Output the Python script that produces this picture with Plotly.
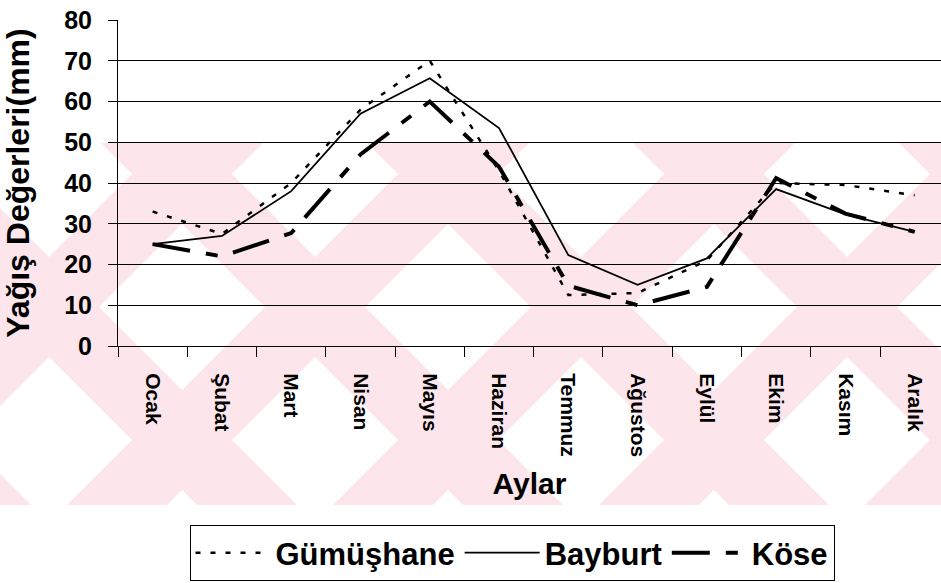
import plotly.graph_objects as go

# ---- data ----
months = ["Ocak", "Şubat", "Mart", "Nisan", "Mayıs", "Haziran",
          "Temmuz", "Ağustos", "Eylül", "Ekim", "Kasım", "Aralık"]
gumushane = [33, 27.5, 40, 58, 70, 43, 12.5, 13, 21, 40, 39.5, 37]
bayburt = [25, 27, 38, 57, 65.7, 53.5, 22.3, 15, 21.5, 38.5, 32.3, 28]
kose = [25, 22, 27.7, 47, 60, 44, 14.8, 10, 14.5, 41.2, 32.5, 28]
y_ticks = [0, 10, 20, 30, 40, 50, 60, 70, 80]

# page body margin is removed (post_script), so figure pixels == screen pixels
W, H = 941, 583
ML, MT, PH = 118, 20, 326
MR = 0
MB = H - MT - PH
PW = W - ML - MR

def px2paper(X, Y):
    return (X - ML) / PW, (MT + PH - Y) / PH

FONT = "Liberation Sans, Arial, Helvetica, sans-serif"

fig = go.Figure()

fig.add_trace(go.Scatter(
    x=months, y=gumushane, name="Gümüşhane", mode="lines",
    line=dict(color="black", width=2.5, dash="5px,10px")))
fig.add_trace(go.Scatter(
    x=months, y=bayburt, name="Bayburt", mode="lines",
    line=dict(color="black", width=1.8)))
fig.add_trace(go.Scatter(
    x=months, y=kose, name="Köse", mode="lines",
    line=dict(color="black", width=4, dash="38px,16px,12px,16px")))

# ---- decorative background watermark (pink diagonal bands) ----
y_top, y_bot, band, period = 143, 505, 100, 266
span = y_bot - y_top
shapes = []
for k in range(-3, 6):
    a = 67 + period * k       # "/" bands
    pts = [(a, y_bot), (a + band, y_bot), (a + band + span, y_top), (a + span, y_top)]
    b = 197 + period * k      # "\" bands
    pts2 = [(b, y_bot), (b + band, y_bot), (b + band - span, y_top), (b - span, y_top)]
    for p in (pts, pts2):
        pp = [px2paper(X, Y) for X, Y in p]
        path = "M " + " L ".join(f"{u:.4f},{v:.4f}" for u, v in pp) + " Z"
        shapes.append(dict(type="path", xref="paper", yref="paper", path=path,
                           fillcolor="#fde6eb", line=dict(width=0), layer="below"))

lx, _ = px2paper(512, 0)
_, ly = px2paper(0, 581)

fig.update_layout(
    width=W, height=H,
    margin=dict(l=ML, r=MR, t=MT, b=MB, pad=0, autoexpand=False),
    paper_bgcolor="white",
    plot_bgcolor="rgba(0,0,0,0)",
    shapes=shapes,
    font=dict(family=FONT, color="black"),
    showlegend=True,
    hovermode=False,
    legend=dict(
        orientation="h", x=lx, xanchor="center",
        y=ly, yanchor="bottom",
        bordercolor="black", borderwidth=1, bgcolor="white",
        font=dict(family=FONT, size=31, weight="bold", color="black"),
        itemwidth=75,
        itemclick=False, itemdoubleclick=False,
    ),
)

fig.update_xaxes(
    type="category", categoryorder="array", categoryarray=months,
    range=[-0.5, 11.38], tickson="boundaries",
    showgrid=False, showline=True, linecolor="black", linewidth=1,
    ticks="outside", ticklen=10, tickcolor="black", tickwidth=1,
    tickangle=90, ticklabelstandoff=22,
    tickfont=dict(family=FONT, size=21, weight="bold", color="black"),
    title=dict(text="Aylar", standoff=16,
               font=dict(family=FONT, size=30, weight="bold", color="black")),
    zeroline=False, automargin=False,
)
fig.update_yaxes(
    range=[0, 80], tickvals=y_ticks, ticktext=[str(v) for v in y_ticks],
    showgrid=True, gridcolor="black", gridwidth=1,
    showline=True, linecolor="black", linewidth=1,
    ticks="outside", ticklen=9, tickcolor="black", tickwidth=1,
    ticklabelstandoff=11, ticklabeloverflow="allow",
    tickfont=dict(family=FONT, size=25, weight="bold", color="black"),
    title=dict(text="Yağış Değerleri(mm)", standoff=27,
               font=dict(family=FONT, size=32, weight="bold", color="black")),
    zeroline=False, automargin=False,
)

fig.write_html("out.html",
               config={"displayModeBar": False, "staticPlot": True},
               post_script="document.body.style.margin='0';")
